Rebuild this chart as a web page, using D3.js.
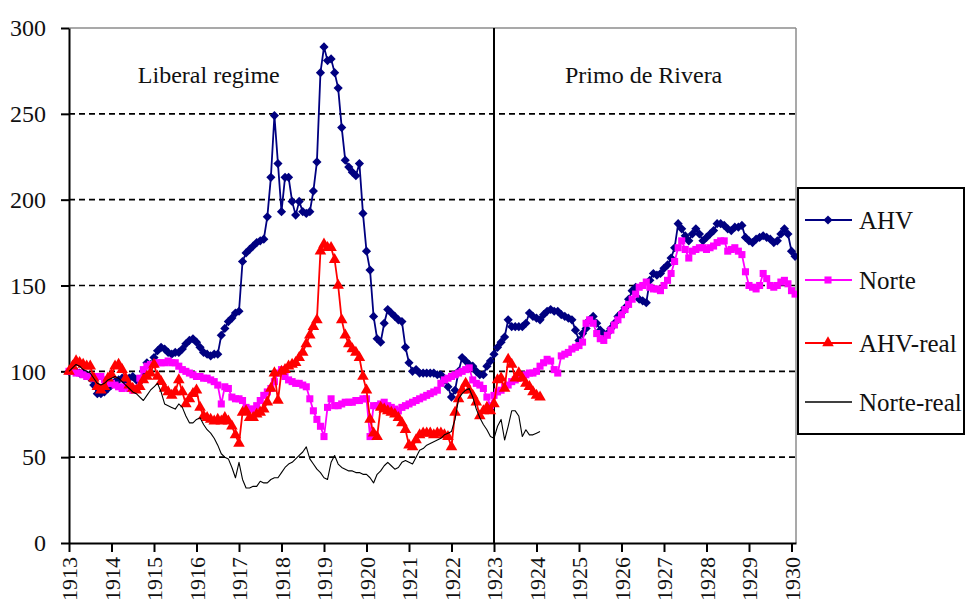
<!DOCTYPE html>
<html>
<head>
<meta charset="utf-8">
<script src="https://cdn.jsdelivr.net/npm/d3@7"></script>
<style>
  body { margin: 0; background: #fff; }
  svg { display: block; font-family: "Liberation Serif", "Times New Roman", serif; }
  svg text { font-family: "Liberation Serif", "Times New Roman", serif; }
</style>
</head>
<body>
<svg id="chart" width="967" height="607"></svg>
<script>
// monthly index values, starting January 1913
const startYear = 1913;
const yearTicks = d3.range(1913, 1931);
const valueTicks = [0, 50, 100, 150, 200, 250, 300];
const gridValues = [50, 100, 150, 200, 250];

const ahv = [
  100,101,100,99,99,98,96,92,87,87,88,90,        // 1913
  92,94,95,96,94,96,97,95,94,100,105,104,        // 1914
  108,112,114,113,111,110,111,111,113,116,118,119, // 1915
  117,114,111,110,109,110,110,121,125,129,131,134, // 1916
  135,164,169,171,173,175,176,177,190,213,249,221, // 1917
  193,213,213,199,191,199,193,192,193,205,222,274, // 1918
  289,281,282,274,265,242,223,219,216,214,221,192, // 1919
  170,159,132,119,117,128,136,134,132,130,129,114, // 1920
  105,100,101,99,99,99,99,99,98,98,95,91,        // 1921
  85,89,100,108,106,104,103,100,98,98,103,106,   // 1922
  110,114,117,120,130,126,126,126,126,128,134,132, // 1923
  131,130,133,135,136,135,135,133,132,131,130,124, // 1924
  118,122,125,130,132,128,124,122,122,125,128,132, // 1925
  134,137,142,147,149,142,141,140,153,157,156,157, // 1926
  160,162,166,172,186,183,179,176,180,183,180,176, // 1927
  178,180,182,186,186,185,183,182,184,184,185,178, // 1928
  176,175,177,178,179,178,177,175,176,180,183,180, // 1929
  170,167                                         // 1930
];

const norte = [
  100,100,99,99,98,97,97,96,97,97,95,93,
  93,92,91,90,91,90,89,90,96,101,103,104,
  104,105,105,105,106,105,105,103,101,100,99,98,
  97,97,96,96,95,94,92,81,91,90,85,84,
  84,83,79,78,78,80,83,86,88,90,94,99,
  101,97,95,94,93,93,92,91,84,77,72,68,
  62,79,84,80,80,81,82,82,82,83,83,84,
  84,62,80,80,81,82,80,79,78,77,79,80,
  81,82,83,84,85,86,87,88,89,93,95,96,
  97,98,99,100,101,102,95,93,92,90,85,80,
  86,88,89,91,92,94,95,96,97,98,99,99,
  100,103,105,107,106,101,99,109,110,111,113,114,
  115,117,128,130,128,122,119,118,121,124,127,130,
  133,136,139,142,145,149,150,152,149,148,148,147,
  150,153,157,164,172,176,171,166,170,171,172,172,
  171,172,173,175,176,176,170,171,172,170,168,158,
  150,149,148,150,157,154,150,149,150,152,153,151,
  147,145
];

const ahvReal = [
  100,103,106,105,104,103,103,96,91,89,91,96,
  98,103,104,101,96,92,90,89,91,95,97,99,
  104,97,94,90,88,86,88,95,88,81,84,87,
  89,79,74,73,72,71,72,71,73,71,68,63,
  58,76,77,73,73,75,76,78,82,90,99,83,
  100,101,103,104,105,108,111,116,121,126,130,170,
  174,172,172,165,150,130,121,116,113,111,108,97,
  89,72,64,62,79,78,77,76,75,73,70,66,
  57,56,60,63,64,64,64,63,64,64,63,62,
  56,76,84,89,93,89,86,82,74,77,79,77,
  81,95,96,90,107,104,96,99,96,93,91,88,
  86,85
];

const norteReal = [
  100,102,104,103,101,100,99,96,93,92,93,95,
  96,97,96,94,92,90,88,87,85,83,86,89,
  91,93,88,81,80,79,78,81,79,74,70,70,
  72,73,69,66,64,61,57,52,50,49,44,38,
  47,37,32,32,33,33,36,35,35,37,38,38,
  41,44,46,47,49,51,53,56,49,46,43,41,
  38,37,47,51,46,44,43,42,42,41,41,40,
  40,38,35,40,42,45,47,45,43,44,47,48,
  47,46,50,54,55,57,58,59,60,61,63,64,
  65,72,84,87,89,90,85,78,73,69,66,62,
  61,68,72,60,68,77,77,74,62,66,63,63,
  64,65
];

const seriesNames = ["AHV", "Norte", "AHV-real", "Norte-real"];
const regimeYear = 1923;
const regimeLabels = [
  { label: "Liberal regime", year: 1914.62, value: 268 },
  { label: "Primo de Rivera", year: 1924.67, value: 268 }
];

// series styles
const series = [
  { name: seriesNames[0], values: ahv, color: "#000080", width: 1.8, symbol: "diamond" },
  { name: seriesNames[1], values: norte, color: "#FF00FF", width: 1.8, symbol: "square" },
  { name: seriesNames[2], values: ahvReal, color: "#FF0000", width: 1.8, symbol: "triangle" },
  { name: seriesNames[3], values: norteReal, color: "#000000", width: 1.1, symbol: null }
];

const svg = d3.select("#chart");
const margin = { top: 28, right: 171, bottom: 64, left: 69 };
const width = +svg.attr("width") - margin.left - margin.right;
const height = +svg.attr("height") - margin.top - margin.bottom;

const g = svg.append("g")
    .attr("transform", `translate(${margin.left}, ${margin.top})`);

const x = d3.scaleLinear()
    .domain([startYear, 1930.106])
    .range([0, width]);

const y = d3.scaleLinear()
    .domain([0, 300])
    .range([height, 0]);

// dashed grid lines
g.selectAll(".grid")
    .data(gridValues)
    .enter()
    .append("line")
    .attr("class", "grid")
    .attr("x1", 0)
    .attr("x2", width)
    .attr("y1", d => y(d))
    .attr("y2", d => y(d))
    .attr("stroke", "#000")
    .attr("stroke-width", 1.6)
    .attr("stroke-dasharray", "6,4");

// plot frame (top + right in grey)
g.append("line")
    .attr("x1", 0).attr("x2", width)
    .attr("y1", y(300)).attr("y2", y(300))
    .attr("stroke", "#8c8c8c").attr("stroke-width", 1.5);
g.append("line")
    .attr("x1", width).attr("x2", width)
    .attr("y1", 0).attr("y2", height)
    .attr("stroke", "#8c8c8c").attr("stroke-width", 1.5);

// regime change line
g.append("line")
    .attr("x1", x(regimeYear)).attr("x2", x(regimeYear))
    .attr("y1", y(300)).attr("y2", y(0))
    .attr("stroke", "#000")
    .attr("stroke-width", 2);

// regime labels
g.selectAll(".regime")
    .data(regimeLabels)
    .enter()
    .append("text")
    .attr("class", "regime")
    .attr("x", d => x(d.year))
    .attr("y", d => y(d.value))
    .attr("font-size", 24)
    .attr("fill", "#111")
    .text(d => d.label);

// axes
const yAxis = d3.axisLeft(y).tickValues(valueTicks).tickSize(8).tickSizeOuter(0).tickPadding(15);
const yAxisG = g.append("g").call(yAxis);
yAxisG.attr("font-family", null);
yAxisG.select(".domain").attr("stroke", "#000").attr("stroke-width", 2);
yAxisG.selectAll(".tick line").attr("stroke", "#000").attr("stroke-width", 2);
yAxisG.selectAll("text")
    .attr("font-size", 24)
    .attr("fill", "#111");

const xAxis = d3.axisBottom(x).tickValues(yearTicks).tickSize(9).tickSizeOuter(0).tickFormat(d3.format("d"));
const xAxisG = g.append("g")
    .attr("transform", `translate(0, ${height})`)
    .call(xAxis);
xAxisG.attr("font-family", null);
xAxisG.select(".domain").attr("stroke", "#000").attr("stroke-width", 2);
xAxisG.selectAll(".tick line").attr("stroke", "#000").attr("stroke-width", 2);
// rotated year labels, kept short enough to fit above the bottom edge
xAxisG.selectAll("text")
    .attr("transform", "rotate(-90)")
    .attr("text-anchor", "end")
    .attr("x", -14)
    .attr("y", 0)
    .attr("dy", "0.35em")
    .attr("font-size", 22)
    .attr("fill", "#111");

// marker shapes
function markerPath(type) {
  if (type === "diamond") return d3.symbol(d3.symbolSquare, 42)();
  if (type === "square") return d3.symbol(d3.symbolSquare, 50)();
  if (type === "triangle") return d3.symbol(d3.symbolTriangle, 58)();
  return null;
}
function markerRotate(type) {
  return type === "diamond" ? " rotate(45)" : "";
}

const line = d3.line()
    .x((d, i) => x(startYear + i / 12))
    .y(d => y(d));

// series lines + markers
series.forEach(s => {
  const sg = g.append("g");
  sg.append("path")
      .datum(s.values)
      .attr("d", line)
      .attr("fill", "none")
      .attr("stroke", s.color)
      .attr("stroke-width", s.width)
      .attr("stroke-linejoin", "round");
  if (s.symbol) {
    sg.selectAll("path.mark")
        .data(s.values)
        .enter()
        .append("path")
        .attr("class", "mark")
        .attr("d", markerPath(s.symbol))
        .attr("transform", (d, i) => `translate(${x(startYear + i / 12)}, ${y(d)})` + markerRotate(s.symbol))
        .attr("fill", s.color);
  }
});

// legend
const legend = svg.append("g").attr("transform", "translate(798, 188)");
legend.append("rect")
    .attr("width", 166)
    .attr("height", 246)
    .attr("fill", "#fff")
    .attr("stroke", "#000")
    .attr("stroke-width", 2);

const legendRows = [32, 92, 155, 214];
const items = legend.selectAll(".item")
    .data(series)
    .enter()
    .append("g")
    .attr("class", "item")
    .attr("transform", (d, i) => `translate(0, ${legendRows[i]})`);

items.append("line")
    .attr("x1", 7).attr("x2", 54)
    .attr("stroke", d => d.color)
    .attr("stroke-width", d => d.width + 0.3);

items.filter(d => d.symbol)
    .append("path")
    .attr("d", d => markerPath(d.symbol))
    .attr("transform", d => "translate(30, 0)" + markerRotate(d.symbol))
    .attr("fill", d => d.color);

items.append("text")
    .attr("x", 61)
    .attr("dy", "0.35em")
    .attr("font-size", 25)
    .attr("fill", "#111")
    .text(d => d.name);
</script>
</body>
</html>
